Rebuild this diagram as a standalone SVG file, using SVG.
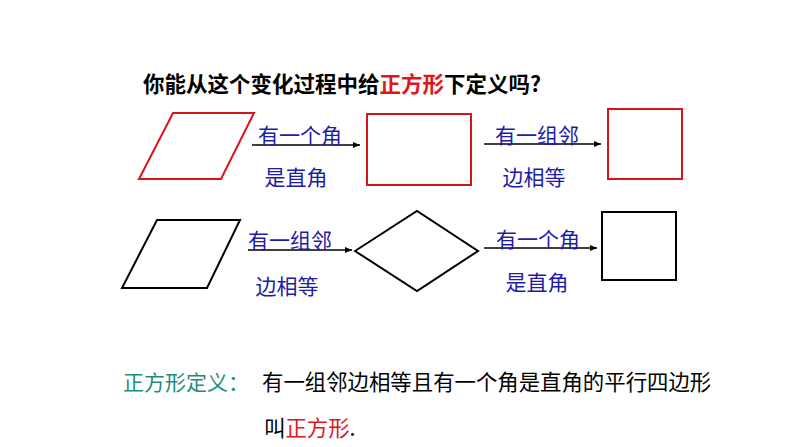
<svg xmlns="http://www.w3.org/2000/svg" width="794" height="447" viewBox="0 0 794 447">
<defs>
<marker id="ah" markerWidth="8" markerHeight="8" refX="7" refY="4" orient="auto" markerUnits="userSpaceOnUse">
<path d="M0,1 L7,4 L0,7 Z" fill="#000"/>
</marker>
<style>
text{font-family:"Noto Sans CJK SC","Noto Sans",sans-serif;font-size:21px}
.title{font-size:21.5px;font-weight:bold;fill:#000}
.t{fill:#000}
.main{font-size:21.4px}
.r{fill:#e0161b}
.b{fill:#1c1ca8;text-anchor:middle}
.g{fill:#1f8c7c}
.red{fill:none;stroke:#d8141a;stroke-width:2}
.blk{fill:none;stroke:#000;stroke-width:2}
.c{stroke:#000;stroke-width:1.5;marker-end:url(#ah)}
</style>
</defs>
<rect width="794" height="447" fill="#fff"/>
<text x="143" y="92" class="title">你能从这个变化过程中给<tspan class="r">正方形</tspan>下定义吗?</text>
<g id="n1"><polygon class="red" points="173,113 254,113 221,179 139,179"/></g>
<g id="n2"><rect class="red" x="367" y="114" width="104" height="71"/></g>
<g id="n3"><rect class="red" x="608" y="109" width="74" height="70"/></g>
<g id="n4"><polygon class="blk" points="157,220 240,220 207,288 122,288"/></g>
<g id="n5"><polygon class="blk" points="355,251 417,211 478,251 417,291"/></g>
<g id="n6"><rect class="blk" x="602" y="212" width="74" height="68"/></g>
<g id="connectors">
<line class="c" x1="252" y1="145" x2="360" y2="145"/>
<line class="c" x1="484" y1="144" x2="601" y2="144"/>
<line class="c" x1="248" y1="250" x2="352" y2="250"/>
<line class="c" x1="484" y1="248" x2="597" y2="248"/>
</g>
<g id="labels">
<text class="b" x="300" y="143">有一个角</text>
<text class="b" x="296" y="185">是直角</text>
<text class="b" x="537" y="143">有一组邻</text>
<text class="b" x="534" y="185">边相等</text>
<text class="b" x="290" y="248">有一组邻</text>
<text class="b" x="287" y="294">边相等</text>
<text class="b" x="538" y="247">有一个角</text>
<text class="b" x="537" y="290">是直角</text>
</g>
<text x="123" y="390" class="g">正方形定义：</text>
<text x="262" y="390" class="t main">有一组邻边相等且有一个角是直角的平行四边形</text>
<text x="264" y="436" class="t main">叫<tspan class="r">正方形</tspan>.</text>
</svg>
